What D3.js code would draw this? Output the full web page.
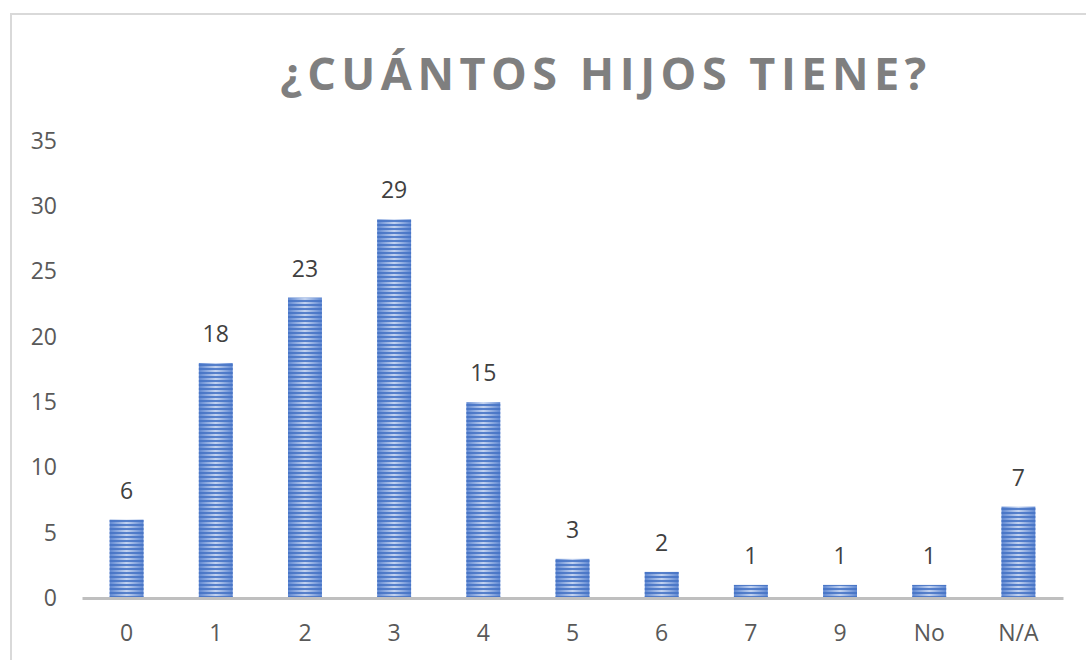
<!DOCTYPE html>
<html>
<head>
<meta charset="utf-8">
<script src="https://cdn.jsdelivr.net/npm/d3@7"></script>
<style>
  body { margin: 0; background: #fff; }
  svg { display: block; font-family: "Open Sans", "Liberation Sans", sans-serif; }
</style>
</head>
<body>
<div id="chart"></div>
<script>
var width = 1086;
var height = 660;

var categories = ["0", "1", "2", "3", "4", "5", "6", "7", "9", "No", "N/A"];
var values = [6, 18, 23, 29, 15, 3, 2, 1, 1, 1, 7];
var yTicks = [0, 5, 10, 15, 20, 25, 30, 35];

var margin = {left: 82, right: 23, top: 141, bottom: 62};

var svg = d3.select("#chart")
    .append("svg")
    .attr("width", width)
    .attr("height", height);

var defs = svg.append("defs");

// light centre, blue edges
var grad = defs.append("linearGradient")
    .attr("id", "barGrad")
    .attr("x1", "0").attr("x2", "1").attr("y1", "0").attr("y2", "0");
grad.append("stop").attr("offset", "0%").attr("stop-color", "#5E87D2");
grad.append("stop").attr("offset", "50%").attr("stop-color", "#C3D3F0");
grad.append("stop").attr("offset", "100%").attr("stop-color", "#5E87D2");

// horizontal stripes
var pat = defs.append("pattern")
    .attr("id", "stripes")
    .attr("patternUnits", "userSpaceOnUse")
    .attr("width", 10)
    .attr("height", 4);
pat.append("rect")
    .attr("x", 0).attr("y", 0)
    .attr("width", 10).attr("height", 2)
    .attr("fill", "#4472C4")
    .attr("opacity", 0.85);

// chart frame (only left and top edges show)
svg.append("rect")
    .attr("x", 11).attr("y", 14)
    .attr("width", 1100).attr("height", 700)
    .attr("fill", "none")
    .attr("stroke", "#d9d9d9")
    .attr("stroke-width", 2);

svg.append("text")
    .text("¿CUÁNTOS HIJOS TIENE?")
    .attr("x", 606)
    .attr("y", 90)
    .attr("text-anchor", "middle")
    .attr("font-size", "45px")
    .attr("font-weight", "bold")
    .attr("letter-spacing", "5.5px")
    .attr("fill", "#7f7f7f");

var x = d3.scaleBand()
    .domain(categories)
    .range([margin.left, width - margin.right])
    .paddingInner(0.62)
    .paddingOuter(0.31);

var y = d3.scaleLinear()
    .domain([0, 35])
    .range([height - margin.bottom, margin.top]);

// y axis labels
var yAxis = d3.axisLeft(y).tickValues(yTicks).tickSize(0).tickPadding(25);
var gy = svg.append("g")
    .attr("transform", "translate(" + margin.left + ",0)")
    .call(yAxis);
gy.select(".domain").remove();
gy.selectAll("text")
    .attr("font-size", "23px")
    .attr("fill", "#595959")
    .attr("font-family", "Open Sans, sans-serif");

var bars = svg.selectAll(".bar")
    .data(values)
    .enter()
    .append("g")
    .attr("class", "bar");

bars.append("rect")
    .attr("x", function(d, i){ return x(categories[i]); })
    .attr("y", function(d){ return y(d); })
    .attr("width", x.bandwidth())
    .attr("height", function(d){ return y(0) - y(d); })
    .attr("fill", "url(#barGrad)");

bars.append("rect")
    .attr("x", function(d, i){ return x(categories[i]); })
    .attr("y", function(d){ return y(d); })
    .attr("width", x.bandwidth())
    .attr("height", function(d){ return y(0) - y(d); })
    .attr("fill", "url(#stripes)");

bars.append("text")
    .text(function(d){ return d; })
    .attr("x", function(d, i){ return x(categories[i]) + x.bandwidth() / 2; })
    .attr("y", function(d){ return y(d) - 21; })
    .attr("text-anchor", "middle")
    .attr("font-size", "23px")
    .attr("fill", "#404040");

// x axis
var xAxis = d3.axisBottom(x).tickSize(0).tickPadding(27);
var gx = svg.append("g")
    .attr("transform", "translate(0," + y(0) + ")")
    .call(xAxis);
gx.select(".domain")
    .attr("stroke", "#bfbfbf")
    .attr("stroke-width", 3);
gx.selectAll("text")
    .attr("font-size", "23px")
    .attr("fill", "#595959")
    .attr("font-family", "Open Sans, sans-serif");
</script>
</body>
</html>
